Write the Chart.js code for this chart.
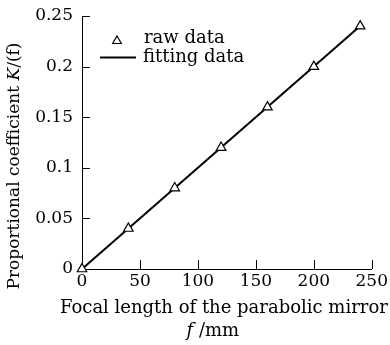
<!DOCTYPE html>
<html>
<head>
<meta charset="utf-8">
<script src="https://cdn.jsdelivr.net/npm/chart.js@4/dist/chart.umd.min.js"></script>
<style>
  html, body { margin: 0; padding: 0; background: #fff; }
  canvas { display: block; }
</style>
</head>
<body>
<canvas id="chart" width="390" height="345"></canvas>
<script>
/*===== DATA =====*/

const focalLength = [0, 40, 80, 120, 160, 200, 240];
const rawK = [0, 0.04, 0.08, 0.12, 0.16, 0.2, 0.24];
const fitFocal = [0, 240];
const fitK = [0, 0.24];
const xTicks = [0, 50, 100, 150, 200, 250];
const yTicks = [0, 0.05, 0.1, 0.15, 0.2, 0.25];

const FONT = "'DejaVu Serif', serif";
const INK = "#000";

/*===== HELPERS =====*/

// draws a line of text made of pieces, some of them italic, centred on x
function richText(ctx, parts, x, y, size) {
    let total = 0;
    parts.forEach(p => {
        ctx.font = (p.italic ? "italic " : "") + size + "px " + FONT;
        p.w = ctx.measureText(p.text).width;
        total += p.w;
    });
    let cx = x - total / 2;
    ctx.textAlign = "left";
    ctx.textBaseline = "middle";
    parts.forEach(p => {
        ctx.font = (p.italic ? "italic " : "") + size + "px " + FONT;
        ctx.fillText(p.text, cx, y);
        cx += p.w;
    });
}

/*===== PLUGIN =====*/

var decor = {
    id: "decor",
    beforeDraw: function(chart) {
        var ctx = chart.ctx;
        ctx.save();
        ctx.fillStyle = "#fff";
        ctx.fillRect(0, 0, chart.width, chart.height);
        ctx.restore();
    },
    beforeDatasetsDraw: function(chart) {
        var ctx = chart.ctx;
        var xs = chart.scales.x, ys = chart.scales.y;
        ctx.save();
        ctx.strokeStyle = INK;
        ctx.lineWidth = 1;
        ctx.beginPath();
        xs.ticks.forEach(t => {
            var px = Math.round(xs.getPixelForValue(t.value)) + 0.5;
            if (t.value === 0) return;
            ctx.moveTo(px, ys.bottom);
            ctx.lineTo(px, ys.bottom - 9);
        });
        ys.ticks.forEach(t => {
            var py = Math.round(ys.getPixelForValue(t.value)) + 0.5;
            if (t.value === 0) return;
            ctx.moveTo(xs.left, py);
            ctx.lineTo(xs.left + 8, py);
        });
        ctx.stroke();
        ctx.restore();
    },
    afterDraw: function(chart) {
        var ctx = chart.ctx;
        var area = chart.chartArea;
        var mid = (area.left + area.right) / 2;
        ctx.save();
        ctx.fillStyle = INK;

        // x title, two lines
        richText(ctx, [{ text: "Focal length of the parabolic mirror" }], mid - 3, 308, 18);
        richText(ctx, [{ text: "f", italic: true }, { text: " /mm" }], mid - 14, 331, 18);

        // y title, rotated
        ctx.translate(15, 166);
        ctx.rotate(-Math.PI / 2);
        richText(ctx, [{ text: "Proportional coefficient " }, { text: "K", italic: true }, { text: "/(f)" }], 0, 0, 17);
        ctx.restore();

        // legend
        ctx.save();
        var raw = chart.data.datasets[0], fit = chart.data.datasets[1];
        ctx.fillStyle = raw.pointBackgroundColor;
        ctx.strokeStyle = raw.pointBorderColor;
        ctx.lineWidth = raw.pointBorderWidth;
        Chart.helpers.drawPoint(ctx, {
            pointStyle: "triangle",
            radius: raw.pointRadius - 0.5,
            borderWidth: raw.pointBorderWidth,
            rotation: 0
        }, 117, 41);
        ctx.strokeStyle = fit.borderColor;
        ctx.lineWidth = fit.borderWidth;
        ctx.beginPath();
        ctx.moveTo(100, 57.5);
        ctx.lineTo(136, 57.5);
        ctx.stroke();
        ctx.fillStyle = INK;
        ctx.font = "18px " + FONT;
        ctx.textAlign = "left";
        ctx.textBaseline = "middle";
        ctx.fillText("raw data", 144, 38);
        ctx.fillText("fitting data", 143, 57);
        ctx.restore();
    }
};

/*===== CHART =====*/

new Chart("chart", {
    type: "scatter",
    data: {
        datasets: [{
            label: "raw data",
            data: focalLength.map((f, i) => ({ x: f, y: rawK[i] })),
            showLine: false,
            pointStyle: "triangle",
            pointRadius: 5.5,
            pointBorderWidth: 1.2,
            pointBorderColor: INK,
            pointBackgroundColor: "#fff",
            clip: false
        }, {
            label: "fitting data",
            data: fitFocal.map((f, i) => ({ x: f, y: fitK[i] })),
            showLine: true,
            borderColor: INK,
            borderWidth: 2,
            pointRadius: 0,
            clip: false
        }]
    },
    options: {
        responsive: false,
        animation: false,
        events: [],
        layout: { padding: { top: 16, right: 18, left: 0, bottom: 0 } },
        plugins: {
            legend: { display: false },
            tooltip: { enabled: false }
        },
        scales: {
            x: {
                type: "linear",
                min: 0,
                max: 250,
                afterBuildTicks: s => { s.ticks = xTicks.map(v => ({ value: v })); },
                afterFit: s => { s.height = 76; },
                grid: { display: true, drawOnChartArea: false, drawTicks: false },
                border: { display: true, color: INK, width: 1 },
                ticks: { color: INK, padding: 2, font: { family: FONT, size: 17 }, maxRotation: 0 }
            },
            y: {
                type: "linear",
                min: 0,
                max: 0.25,
                afterBuildTicks: s => { s.ticks = yTicks.map(v => ({ value: v })); },
                afterFit: s => { s.width = 82; s.paddingTop = 0; s.paddingBottom = 0; },
                grid: { display: true, drawOnChartArea: false, drawTicks: false },
                border: { display: true, color: INK, width: 1 },
                ticks: {
                    color: INK,
                    padding: 9,
                    font: { family: FONT, size: 17 },
                    callback: v => String(Math.round(v * 100) / 100)
                }
            }
        }
    },
    plugins: [decor]
});
</script>
</body>
</html>
